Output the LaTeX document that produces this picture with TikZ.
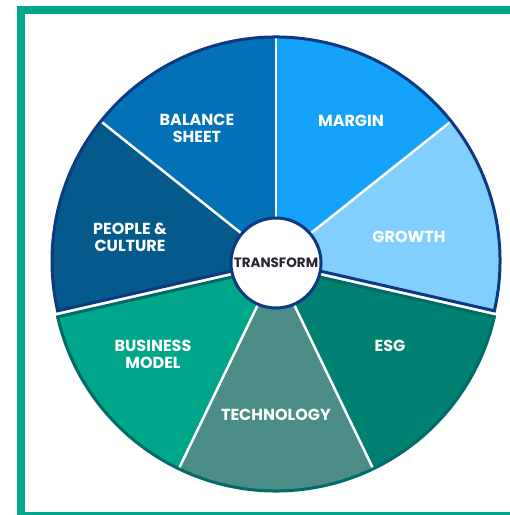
\documentclass[tikz,border=0pt]{standalone}
\usepackage{fontspec}
\newfontfamily\labelfont{Poppins}
\definecolor{framegreen}{HTML}{00A78E}
\definecolor{navyedge}{HTML}{0B3A80}
\definecolor{tealedge}{HTML}{006B68}
\definecolor{balancecol}{HTML}{0271B8}
\definecolor{margincol}{HTML}{14A2FA}
\definecolor{growthcol}{HTML}{82CEFC}
\definecolor{peoplecol}{HTML}{055A8C}
\definecolor{businesscol}{HTML}{00A68A}
\definecolor{techcol}{HTML}{4A8D86}
\definecolor{esgcol}{HTML}{008070}
\definecolor{hubtext}{HTML}{2B2430}
\tikzset{
  lbl/.style={text=white, align=center, inner sep=0pt,
    font=\labelfont\bfseries\fontsize{16}{17}\selectfont},
  hublbl/.style={text=hubtext, inner sep=0pt,
    font=\labelfont\bfseries\fontsize{13.5}{14}\selectfont},
  divider/.style={white, line width=2.5pt},
  rim/.style={line width=3pt, line join=miter},
}
\begin{document}
\begin{tikzpicture}[x=1pt,y=1pt]
  \useasboundingbox (0,0) rectangle (510,515);
  \clip (0,0) rectangle (510,515);
  \fill[white] (0,0) rectangle (510,515);
  % outer frame
  \draw[framegreen, line width=8pt] (21,505) rectangle (530,-1);

  \def\R{224}
  % upper (blue) group and lower (green) group, pulled slightly apart
  \coordinate (B) at (276,254);
  \coordinate (G) at (276,248);

  % blue sectors
  \fill[growthcol]  (B) -- ++(-12.857:\R) arc[start angle=-12.857, end angle=38.571, radius=\R] -- cycle;
  \fill[margincol]  (B) -- ++(38.571:\R) arc[start angle=38.571, end angle=90, radius=\R] -- cycle;
  \fill[balancecol] (B) -- ++(90:\R) arc[start angle=90, end angle=141.429, radius=\R] -- cycle;
  \fill[peoplecol]  (B) -- ++(141.429:\R) arc[start angle=141.429, end angle=192.857, radius=\R] -- cycle;
  % green sectors
  \fill[businesscol] (G) -- ++(192.857:\R) arc[start angle=192.857, end angle=244.286, radius=\R] -- cycle;
  \fill[techcol]     (G) -- ++(244.286:\R) arc[start angle=244.286, end angle=295.714, radius=\R] -- cycle;
  \fill[esgcol]      (G) -- ++(295.714:\R) arc[start angle=295.714, end angle=347.143, radius=\R] -- cycle;

  % white dividers between sectors
  \draw[divider] (B) -- ++(38.571:\R);
  \draw[divider] (B) -- ++(90:\R);
  \draw[divider] (B) -- ++(141.429:\R);
  \draw[divider] (G) -- ++(244.286:\R);
  \draw[divider] (G) -- ++(295.714:\R);

  % group outlines
  \draw[rim, navyedge] (B) -- ++(-12.857:\R) arc[start angle=-12.857, end angle=192.857, radius=\R] -- cycle;
  \draw[rim, tealedge] (G) -- ++(192.857:\R) arc[start angle=192.857, end angle=347.143, radius=\R] -- cycle;

  % hub
  \node[circle, fill=white, draw=navyedge, line width=3pt, minimum size=90pt, inner sep=0pt] (hub) at (276,252) {};
  \node[hublbl] (transform) at (hub) {TRANSFORM};

  % sector labels
  \node[lbl] (balance)  at (197,387) {BALANCE\\SHEET};
  \node[lbl] (margin)   at (351,394) {MARGIN};
  \node[lbl] (growth)   at (409,278) {GROWTH};
  \node[lbl] (people)   at (130,278) {PEOPLE \&\\CULTURE};
  \node[lbl] (business) at (153,161) {BUSINESS\\MODEL};
  \node[lbl] (tech)     at (276,100) {TECHNOLOGY};
  \node[lbl] (esg)      at (390,169) {ESG};
\end{tikzpicture}
\end{document}
